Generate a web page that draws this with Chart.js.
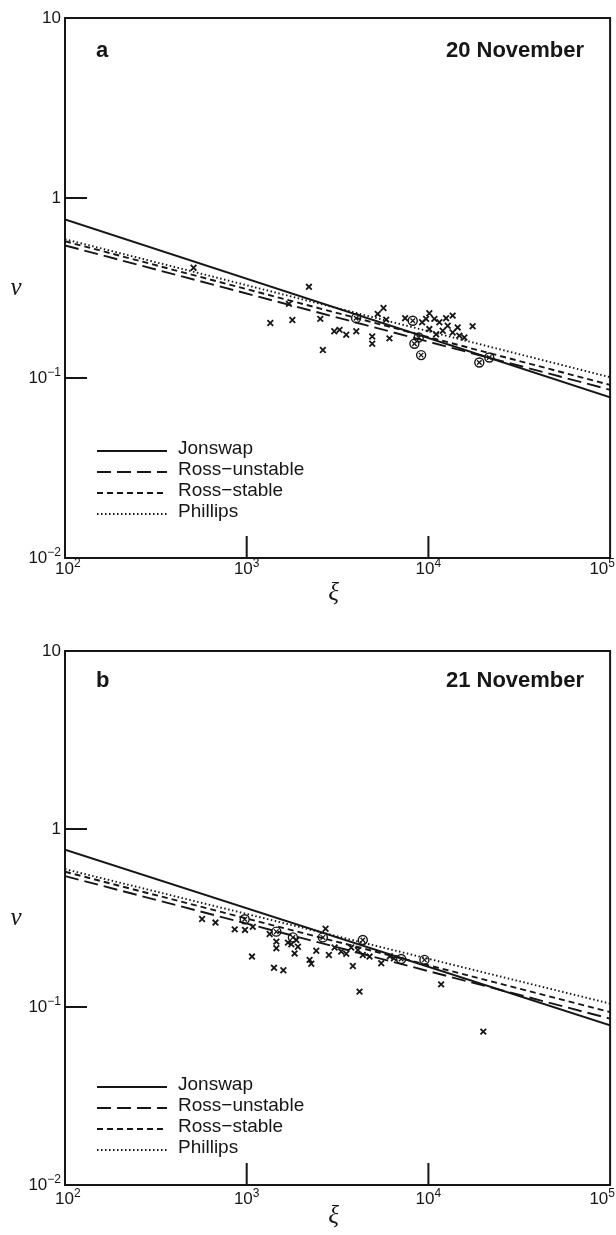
<!DOCTYPE html>
<html lang="en">
<head>
  <meta charset="UTF-8">
  <title>Wave frequency against fetch - 20 and 21 November</title>
  <script src="https://cdn.jsdelivr.net/npm/chart.js"></script>
  <style>
    body {
      margin: 0;
      background: #fff;
    }
    .panel {
      position: absolute;
      left: 0;
      width: 616px;
    }
  </style>
</head>
<body>
  <div class="panel" style="top:0;height:610px"><canvas id="chartA" width="616" height="610"></canvas></div>
  <div class="panel" style="top:620px;height:615px"><canvas id="chartB" width="616" height="615"></canvas></div>

  <script>
    // axes
    const xTicks = [1e2, 1e3, 1e4, 1e5];
    const yTicks = [1e-2, 1e-1, 1, 10];
    const seriesNames = ['Jonswap', 'Ross\u2212unstable', 'Ross\u2212stable', 'Phillips'];
    const xiEnds = [1e2, 1e5];

    // panel a, 20 November
    const jonswapA = [0.76, 0.078];
    const rossUnstableA = [0.545, 0.086];
    const rossStableA = [0.575, 0.0915];
    const phillipsA = [0.59, 0.101];
    const crossXiA = [510, 1349, 1783, 2200, 1708, 2541, 2625, 3033, 3243, 3530, 4008, 4906, 4906, 5263, 5660, 5857, 6105, 7447,
      10120, 9231, 9710, 10790, 11490, 12510, 13600, 12770, 14490, 11990, 13600, 14800, 15770, 11030, 10120, 17510];
    const crossNuA = [0.41, 0.202, 0.210, 0.321, 0.258, 0.213, 0.143, 0.182, 0.185, 0.174, 0.182, 0.170, 0.155, 0.227, 0.245, 0.211, 0.166, 0.215,
      0.229, 0.204, 0.213, 0.213, 0.204, 0.215, 0.222, 0.195, 0.191, 0.183, 0.179, 0.172, 0.168, 0.175, 0.187, 0.194];
    const circXiA = [4000, 8200, 8850, 8375, 9120, 19060, 21630];
    const circNuA = [0.215, 0.208, 0.168, 0.155, 0.134, 0.122, 0.130];

    // panel b, 21 November
    const jonswapB = [0.764, 0.0788];
    const rossUnstableB = [0.544, 0.086];
    const rossStableB = [0.575, 0.0937];
    const phillipsB = [0.595, 0.1045];
    const crossXiB = [568, 673, 859, 979, 1069, 1413, 1591, 1337, 1456, 1456, 1687, 1761, 1914, 1875, 1835, 2219, 2267, 2415,
      2717, 2834, 3046, 3314, 3532, 3760, 3840, 4178, 4090, 4355, 4742, 5500, 11750, 20050, 1080, 6136, 6459];
    const crossNuB = [0.312, 0.298, 0.273, 0.271, 0.192, 0.166, 0.161, 0.257, 0.233, 0.214, 0.230, 0.225, 0.218, 0.238, 0.200, 0.184, 0.175, 0.207,
      0.275, 0.196, 0.216, 0.205, 0.199, 0.216, 0.170, 0.122, 0.209, 0.196, 0.192, 0.176, 0.134, 0.0727, 0.282, 0.193, 0.188];
    const circXiB = [975, 1456, 1796, 2626, 4355, 7080, 9510];
    const circNuB = [0.311, 0.265, 0.246, 0.246, 0.238, 0.186, 0.184];

    const INK = '#161616';
    const lineStyles = [
      { dash: [], width: 2 },
      { dash: [14, 6], width: 1.9 },
      { dash: [6, 4], width: 1.9 },
      { dash: [1.5, 2.5], width: 1.9 }
    ];

    function pts(xs, ys) {
      return xs.map((x, i) => ({ x: x, y: ys[i] }));
    }

    // "10" with a raised exponent, drawn as canvas text
    function powLabel(ctx, v, x, y, align) {
      const e = Math.round(Math.log10(v));
      let base = '10', sup = '';
      if (e === 0) base = '1';
      else if (e !== 1) sup = e < 0 ? '\u2212' + (-e) : String(e);
      ctx.font = '17px "Liberation Sans", Arial, sans-serif';
      const wb = ctx.measureText(base).width;
      ctx.font = '12px "Liberation Sans", Arial, sans-serif';
      const ws = ctx.measureText(sup).width;
      const w = wb + ws;
      let x0 = x;
      if (align === 'right') x0 = x - w;
      if (align === 'center') x0 = Math.min(Math.max(x - w / 2, 55), 615 - w);
      ctx.textAlign = 'left';
      ctx.textBaseline = 'middle';
      ctx.font = '17px "Liberation Sans", Arial, sans-serif';
      ctx.fillText(base, x0, y);
      ctx.font = '12px "Liberation Sans", Arial, sans-serif';
      ctx.fillText(sup, x0 + wb, y - 5);
    }

    function makePanel(id, p) {
      const decor = {
        id: 'decor' + id,
        afterDraw(chart) {
          const { ctx, chartArea: a, scales: { x, y } } = chart;
          ctx.save();
          ctx.strokeStyle = INK;
          ctx.fillStyle = INK;
          ctx.lineWidth = 2;
          ctx.setLineDash([]);
          ctx.strokeRect(a.left, a.top, a.right - a.left, a.bottom - a.top);

          // inward ticks at the inner decades
          ctx.beginPath();
          yTicks.slice(1, -1).forEach(v => {
            const py = y.getPixelForValue(v);
            ctx.moveTo(a.left, py);
            ctx.lineTo(a.left + 22, py);
          });
          xTicks.slice(1, -1).forEach(v => {
            const px = x.getPixelForValue(v);
            ctx.moveTo(px, a.bottom);
            ctx.lineTo(px, a.bottom - 22);
          });
          ctx.stroke();

          // tick labels
          yTicks.forEach(v => powLabel(ctx, v, a.left - 4, y.getPixelForValue(v), 'right'));
          xTicks.forEach(v => powLabel(ctx, v, x.getPixelForValue(v), a.bottom + p.xLabelGap, 'center'));

          // axis symbols
          ctx.font = 'italic 25px "Liberation Serif", "DejaVu Serif", serif';
          ctx.textAlign = 'center';
          ctx.textBaseline = 'middle';
          ctx.fillText('\u03bd', 16, y.getPixelForValue(Math.sqrt(0.1)));
          ctx.fillText('\u03be', (a.left + a.right) / 2 - 4, a.bottom + p.xiGap);

          // panel letter and date
          ctx.font = 'bold 22px "Liberation Sans", Arial, sans-serif';
          ctx.textAlign = 'left';
          ctx.fillText(p.letter, a.left + 31, a.top + p.textGap);
          ctx.textAlign = 'right';
          ctx.fillText(p.date, a.right - 26, a.top + p.textGap);

          // legend
          ctx.font = '19px "Liberation Sans", Arial, sans-serif';
          seriesNames.forEach((name, i) => {
            const ly = a.bottom - p.legendBottom - (3 - i) * 21;
            ctx.lineWidth = lineStyles[i].width;
            ctx.setLineDash(lineStyles[i].dash);
            ctx.beginPath();
            ctx.moveTo(a.left + 32, ly + 2);
            ctx.lineTo(a.left + 102, ly + 2);
            ctx.stroke();
            ctx.setLineDash([]);
            ctx.textAlign = 'left';
            ctx.fillText(name, a.left + 113, ly);
          });
          ctx.restore();
        }
      };

      const series = [p.jonswap, p.rossUnstable, p.rossStable, p.phillips];
      const lineSets = series.map((vals, i) => ({
        label: seriesNames[i],
        data: pts(xiEnds, vals),
        showLine: true,
        borderColor: INK,
        borderWidth: lineStyles[i].width,
        borderDash: lineStyles[i].dash,
        pointRadius: 0,
        fill: false
      }));

      return new Chart(document.getElementById(id).getContext('2d'), {
        type: 'scatter',
        data: {
          datasets: lineSets.concat([
            {
              label: 'measured',
              data: pts(p.crossXi, p.crossNu),
              pointStyle: 'crossRot',
              pointRadius: 4,
              borderColor: INK,
              borderWidth: 1.8
            },
            {
              label: 'measured (ringed)',
              data: pts(p.circXi, p.circNu),
              pointStyle: 'circle',
              pointRadius: 4.5,
              borderColor: INK,
              backgroundColor: 'rgba(255,255,255,0)',
              borderWidth: 1.4
            },
            {
              label: 'measured (ringed) cross',
              data: pts(p.circXi, p.circNu),
              pointStyle: 'crossRot',
              pointRadius: 3.2,
              borderColor: INK,
              borderWidth: 1.3
            }
          ])
        },
        options: {
          responsive: false,
          animation: false,
          devicePixelRatio: 1,
          layout: { padding: { top: p.top, right: 5, left: 0, bottom: 0 } },
          plugins: {
            legend: { display: false },
            tooltip: { enabled: false }
          },
          scales: {
            x: {
              type: 'logarithmic',
              min: 1e2,
              max: 1e5,
              grid: { display: false },
              border: { display: false },
              ticks: { display: false },
              afterBuildTicks: s => { s.ticks = xTicks.map(v => ({ value: v })); },
              afterFit: s => { s.height = p.xAxisH; }
            },
            y: {
              type: 'logarithmic',
              min: 1e-2,
              max: 10,
              grid: { display: false },
              border: { display: false },
              ticks: { display: false },
              afterBuildTicks: s => { s.ticks = yTicks.map(v => ({ value: v })); },
              afterFit: s => { s.width = 65; }
            }
          }
        },
        plugins: [decor]
      });
    }

    makePanel('chartA', {
      top: 18, xAxisH: 52, xLabelGap: 11, xiGap: 35, textGap: 33, legendBottom: 46,
      letter: 'a', date: '20 November',
      jonswap: jonswapA, rossUnstable: rossUnstableA, rossStable: rossStableA, phillips: phillipsA,
      crossXi: crossXiA, crossNu: crossNuA, circXi: circXiA, circNu: circNuA
    });

    makePanel('chartB', {
      top: 31, xAxisH: 50, xLabelGap: 14, xiGap: 31, textGap: 30, legendBottom: 37,
      letter: 'b', date: '21 November',
      jonswap: jonswapB, rossUnstable: rossUnstableB, rossStable: rossStableB, phillips: phillipsB,
      crossXi: crossXiB, crossNu: crossNuB, circXi: circXiB, circNu: circNuB
    });
  </script>
</body>
</html>
